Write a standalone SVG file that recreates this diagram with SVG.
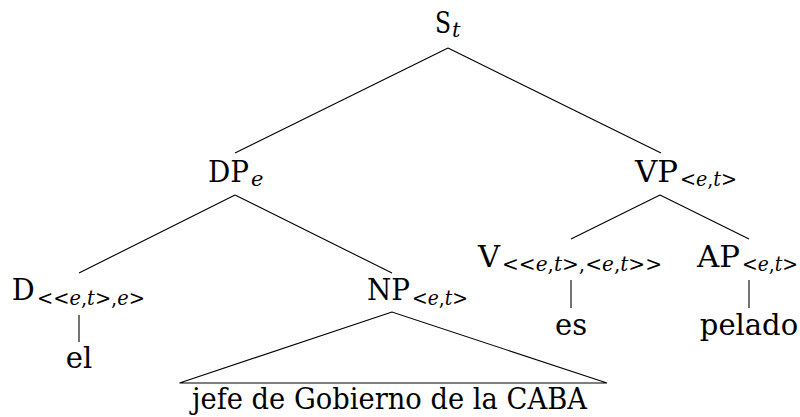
<svg xmlns="http://www.w3.org/2000/svg" width="800" height="417" viewBox="0 0 800 417">
<style>
text{font-family:"DejaVu Serif","Liberation Serif",serif;font-size:29px;fill:#000}
.s{font-size:21px}
.i{font-style:italic}
.e{stroke:#000;stroke-width:1.1;fill:none;stroke-linecap:butt}
.c{text-anchor:middle}
</style>
<rect width="800" height="417" fill="#fff"/>
<g id="connectors">
<line class="e" x1="448" y1="48" x2="235" y2="153"/>
<line class="e" x1="448" y1="48" x2="661" y2="153"/>
<line class="e" x1="235" y1="195" x2="79" y2="273"/>
<line class="e" x1="235" y1="195" x2="392" y2="273"/>
<line class="e" x1="660" y1="195" x2="571" y2="239"/>
<line class="e" x1="660" y1="195" x2="749" y2="239"/>
<line class="e" x1="79" y1="315" x2="79" y2="342"/>
<line class="e" x1="571" y1="280" x2="571" y2="308"/>
<line class="e" x1="749" y1="280" x2="749" y2="308"/>
<path class="e" d="M392,312 L179.5,383 L607,383 Z"/>
</g>
<g id="S">
<text x="435" y="33.3"><tspan textLength="16" lengthAdjust="spacingAndGlyphs">S</tspan><tspan class="s i" x="452" dy="4">t</tspan></text>
</g>
<g id="DP">
<text x="208" y="181.7"><tspan textLength="41" lengthAdjust="spacingAndGlyphs">DP</tspan><tspan class="s i" x="251" dy="4.3">e</tspan></text>
</g>
<g id="VP">
<text x="635" y="181.7"><tspan textLength="43" lengthAdjust="spacingAndGlyphs">VP</tspan><tspan class="s" x="680" dy="4.3" textLength="57" lengthAdjust="spacingAndGlyphs">&lt;<tspan class="i">e</tspan>,<tspan class="i">t</tspan>&gt;</tspan></text>
</g>
<g id="D">
<text x="11.7" y="300"><tspan textLength="23" lengthAdjust="spacingAndGlyphs">D</tspan><tspan class="s" x="37" dy="4.5" textLength="108" lengthAdjust="spacingAndGlyphs">&lt;&lt;<tspan class="i">e</tspan>,<tspan class="i">t</tspan>&gt;,<tspan class="i">e</tspan>&gt;</tspan></text>
</g>
<g id="el">
<text class="c" x="79" y="368.3">el</text>
</g>
<g id="NP">
<text x="367" y="300"><tspan textLength="43" lengthAdjust="spacingAndGlyphs">NP</tspan><tspan class="s" x="412" dy="4.5" textLength="56" lengthAdjust="spacingAndGlyphs">&lt;<tspan class="i">e</tspan>,<tspan class="i">t</tspan>&gt;</tspan></text>
</g>
<g id="NPyield">
<text x="192" y="409" textLength="395" lengthAdjust="spacingAndGlyphs">jefe de Gobierno de la CABA</text>
</g>
<g id="V">
<text x="478" y="266.7"><tspan textLength="22" lengthAdjust="spacingAndGlyphs">V</tspan><tspan class="s" x="502" dy="4.3" textLength="160" lengthAdjust="spacingAndGlyphs">&lt;&lt;<tspan class="i">e</tspan>,<tspan class="i">t</tspan>&gt;,&lt;<tspan class="i">e</tspan>,<tspan class="i">t</tspan>&gt;&gt;</tspan></text>
</g>
<g id="es">
<text class="c" x="571" y="335">es</text>
</g>
<g id="AP">
<text x="697" y="266.7"><tspan textLength="43" lengthAdjust="spacingAndGlyphs">AP</tspan><tspan class="s" x="742" dy="4.3" textLength="56" lengthAdjust="spacingAndGlyphs">&lt;<tspan class="i">e</tspan>,<tspan class="i">t</tspan>&gt;</tspan></text>
</g>
<g id="pelado">
<text class="c" x="749" y="335">pelado</text>
</g>
</svg>
